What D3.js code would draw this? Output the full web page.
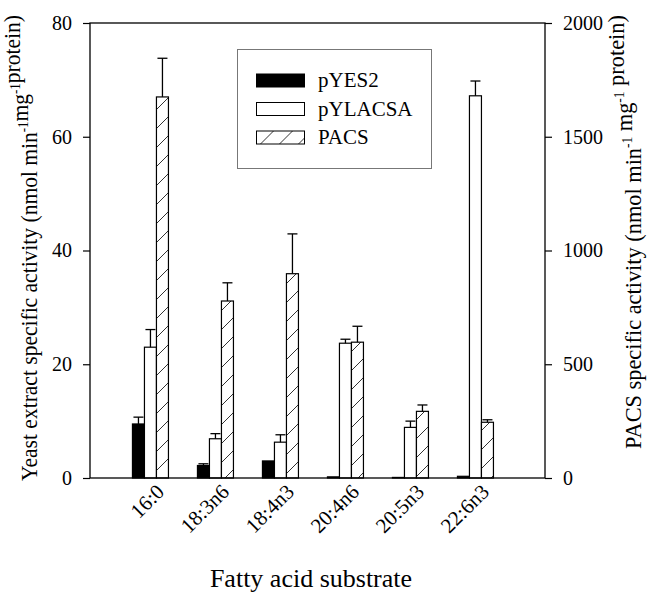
<!DOCTYPE html>
<html>
<head>
<meta charset="utf-8">
<script src="https://cdn.jsdelivr.net/npm/d3@7"></script>
<style>
    body { margin: 0; background: #fff; }
    svg text { font-family: "Liberation Serif", "Times New Roman", serif; fill: #000; }
</style>
</head>
<body>
<svg id="chart" width="647" height="594"></svg>
<script>
(function() {
    // data
    var substrates = ["16:0", "18:3n6", "18:4n3", "20:4n6", "20:5n3", "22:6n3"];
    var seriesNames = ["pYES2", "pYLACSA", "PACS"];
    // left axis units (nmol min-1 mg-1 protein)
    var pYES2 = [9.5, 2.2, 3.0, 0.2, 0.1, 0.3];
    var pYES2Err = [1.2, 0.3, 0, 0, 0, 0];
    var pYLACSA = [23.0, 6.9, 6.3, 23.7, 8.9, 67.2];
    var pYLACSAErr = [3.1, 0.9, 1.3, 0.7, 1.1, 2.6];
    // right axis units
    var PACS = [1675, 778, 898, 597, 293, 245];
    var PACSErr = [170, 80, 175, 70, 28, 11];
    var leftTicks = [0, 20, 40, 60, 80];
    var rightTicks = [0, 500, 1000, 1500, 2000];

    var svg = d3.select("#chart");
    var left = 90, right = 545, top = 23, bottom = 478;
    var FONT = 20;

    var x = d3.scaleLinear().domain([0.07, 7.07]).range([left, right]);
    var sub = d3.scaleBand().domain(seriesNames).range([-18, 18]);
    var yL = d3.scaleLinear().domain([0, 80]).range([bottom, top]);
    var yR = d3.scaleLinear().domain([0, 2000]).range([bottom, top]);

    var defs = svg.append("defs");
    var pat = defs.append("pattern")
        .attr("id", "hatch")
        .attr("patternUnits", "userSpaceOnUse")
        .attr("width", 19).attr("height", 19);
    pat.append("rect").attr("width", 19).attr("height", 19).attr("fill", "#fff");
    pat.append("path")
        .attr("d", "M-2,21L21,-2M-2,2L2,-2M17,21L21,17")
        .attr("stroke", "#333").attr("stroke-width", 1);

    var rows = substrates.map(function(s, i) {
        return [
            { key: "pYES2", cat: s, idx: i, v: pYES2[i], e: pYES2Err[i], y: yL },
            { key: "pYLACSA", cat: s, idx: i, v: pYLACSA[i], e: pYLACSAErr[i], y: yL },
            { key: "PACS", cat: s, idx: i, v: PACS[i], e: PACSErr[i], y: yR }
        ];
    });
    var bars = [].concat.apply([], rows);

    function fillFor(key) {
        if (key === "pYES2") return "#000";
        if (key === "pYLACSA") return "#fff";
        return "url(#hatch)";
    }

    var barLayer = svg.append("g");
    barLayer.selectAll("rect")
        .data(bars)
        .join("rect")
        .attr("x", function(d) { return x(d.idx + 1) + sub(d.key); })
        .attr("width", sub.bandwidth())
        .attr("y", function(d) { return d.y(d.v); })
        .attr("height", function(d) { return bottom - d.y(d.v); })
        .attr("fill", function(d) { return fillFor(d.key); })
        .attr("stroke", "#000")
        .attr("stroke-width", 1.2);

    var errs = bars.filter(function(d) { return d.e > 0; });
    var errLayer = svg.append("g").attr("stroke", "#000").attr("stroke-width", 1.3);
    errs.forEach(function(d) {
        var cx = x(d.idx + 1) + sub(d.key) + sub.bandwidth() / 2;
        errLayer.append("line")
            .attr("x1", cx).attr("x2", cx)
            .attr("y1", d.y(d.v)).attr("y2", d.y(d.v + d.e));
        errLayer.append("line")
            .attr("x1", cx - 5).attr("x2", cx + 5)
            .attr("y1", d.y(d.v + d.e)).attr("y2", d.y(d.v + d.e));
    });

    // frame
    svg.append("rect")
        .attr("x", left).attr("y", top)
        .attr("width", right - left).attr("height", bottom - top)
        .attr("fill", "none").attr("stroke", "#000").attr("stroke-width", 1.3);

    var axL = svg.append("g")
        .attr("transform", "translate(" + left + ",0)")
        .call(d3.axisLeft(yL).tickValues(leftTicks).tickFormat(d3.format("d"))
            .tickSize(7).tickPadding(11));
    var axR = svg.append("g")
        .attr("transform", "translate(" + right + ",0)")
        .call(d3.axisRight(yR).tickValues(rightTicks).tickFormat(d3.format("d"))
            .tickSize(7).tickPadding(11));
    [axL, axR].forEach(function(ax) {
        ax.select(".domain").remove();
        ax.selectAll("line").attr("stroke", "#000").attr("stroke-width", 1.2);
        ax.selectAll("text").style("font-size", FONT + "px")
            .style("font-family", "'Liberation Serif', serif");
    });

    // rotated category labels
    svg.append("g").selectAll("text")
        .data(substrates)
        .join("text")
        .attr("text-anchor", "end")
        .attr("transform", function(d, i) {
            return "translate(" + (x(i + 1) + 15) + "," + (bottom + 15) + ") rotate(-45)";
        })
        .style("font-size", "21px")
        .text(function(d) { return d; });

    svg.append("text")
        .attr("x", 311).attr("y", 587)
        .attr("text-anchor", "middle")
        .style("font-size", "26px")
        .text("Fatty acid substrate");

    // rotated title with superscripts, squeezed along its length to span `span` px
    function unitTitle(cx, cy, size, span, parts) {
        var t = svg.append("text")
            .attr("text-anchor", "middle")
            .style("font-size", size + "px");
        parts.forEach(function(p) {
            if (p.sup) {
                t.append("tspan").attr("dy", -0.38 * size)
                    .style("font-size", (0.6 * size) + "px").text(p.text);
                t.append("tspan").attr("dy", 0.38 * size).text("");
            } else {
                t.append("tspan").text(p.text);
            }
        });
        var len = t.node().getComputedTextLength();
        t.attr("transform", "translate(" + cx + "," + cy + ") rotate(-90) scale(" + (span / len) + ",1)");
        return t;
    }

    unitTitle(37, 248, 23, 466, [
        { text: "Yeast extract specific activity (nmol min" },
        { text: "-1", sup: true },
        { text: "mg" },
        { text: "-1", sup: true },
        { text: "protein)" }
    ]);
    unitTitle(641, 232, 23, 434, [
        { text: "PACS specific activity (nmol min" },
        { text: "-1", sup: true },
        { text: " mg" },
        { text: "-1", sup: true },
        { text: " protein)" }
    ]);

    // legend
    var lg = svg.append("g");
    lg.append("rect")
        .attr("x", 237.5).attr("y", 49.5)
        .attr("width", 194).attr("height", 119)
        .attr("fill", "#fff").attr("stroke", "#777").attr("stroke-width", 1);
    var lgy = d3.scalePoint().domain(seriesNames).range([74, 131]);
    var lgPat = defs.append("pattern")
        .attr("id", "hatchLegend")
        .attr("patternUnits", "userSpaceOnUse")
        .attr("x", 256.5).attr("y", 131)
        .attr("width", 19).attr("height", 13);
    lgPat.append("rect").attr("width", 19).attr("height", 13).attr("fill", "#fff");
    lgPat.append("path")
        .attr("d", "M4,13L17,0")
        .attr("stroke", "#333").attr("stroke-width", 1);
    seriesNames.forEach(function(name) {
        lg.append("rect")
            .attr("x", 256.5).attr("y", lgy(name))
            .attr("width", 48).attr("height", 13)
            .attr("fill", name === "PACS" ? "url(#hatchLegend)" : fillFor(name))
            .attr("stroke", "#000").attr("stroke-width", 1);
        lg.append("text")
            .attr("x", 318).attr("y", lgy(name) + 13)
            .style("font-size", "21px")
            .text(name);
    });
})();
</script>
</body>
</html>
